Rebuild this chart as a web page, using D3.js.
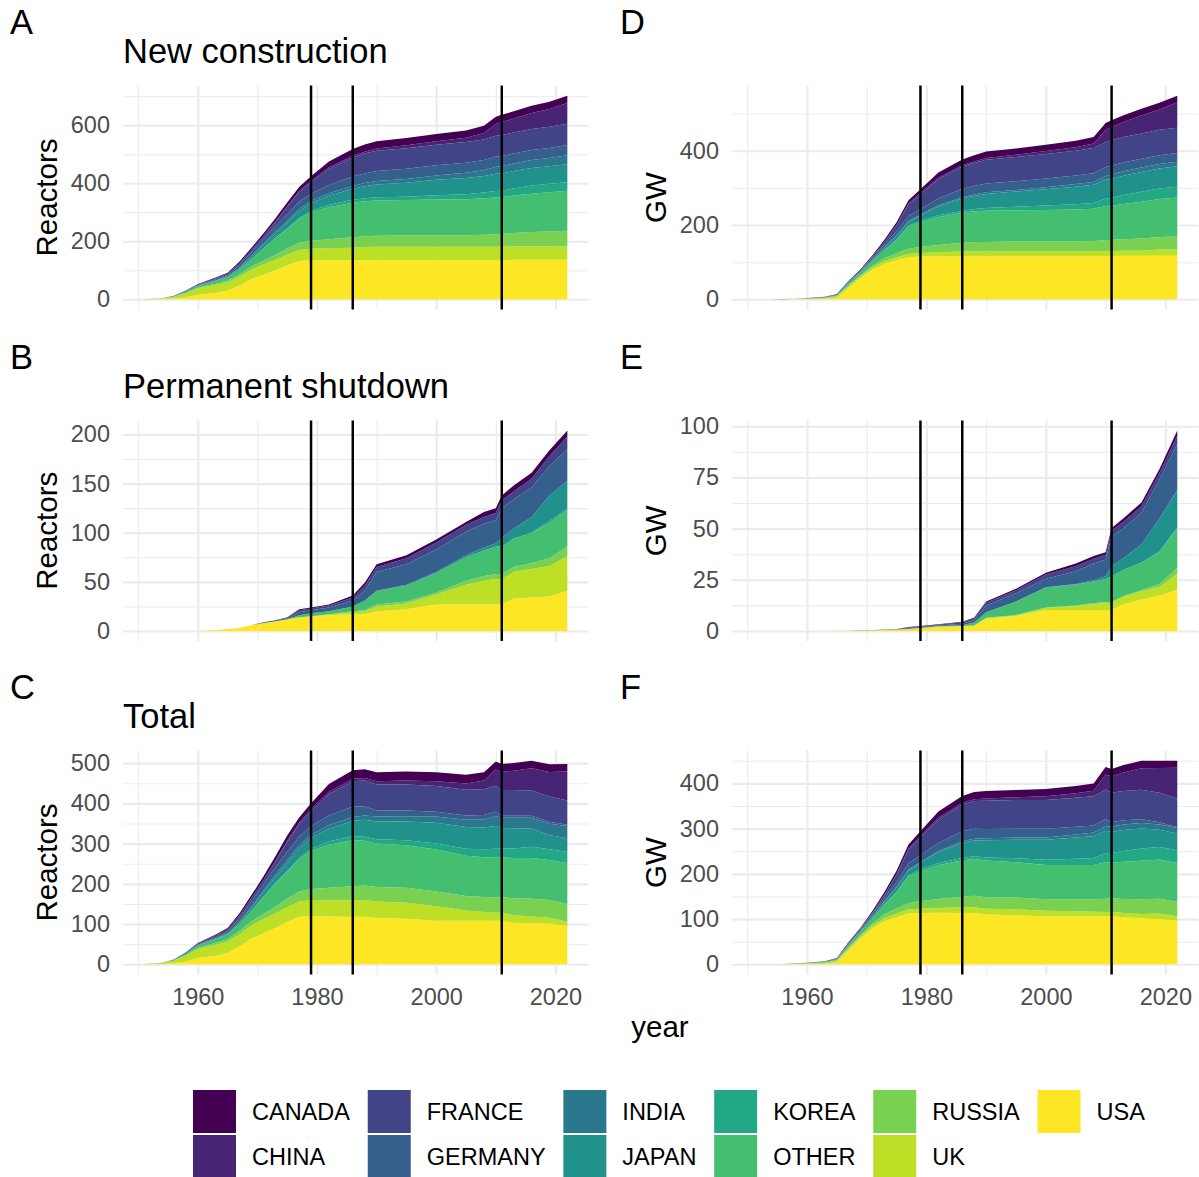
<!DOCTYPE html>
<html>
<head>
<meta charset="utf-8">
<script src="https://cdn.jsdelivr.net/npm/d3@7"></script>
<style>
  body { margin: 0; background: #fff; }
  svg { font-family: "Liberation Sans", Arial, Helvetica, sans-serif; }
</style>
</head>
<body>
<div id="chart"></div>
<script>
// ---- data ----
const years = [1951, 1954, 1956, 1958, 1960, 1963, 1965, 1967, 1969, 1971,
               1973, 1975, 1977, 1979, 1982, 1986, 1988, 1990, 1995, 2000,
               2005, 2008, 2010, 2011, 2013, 2016, 2019, 2022];

const countries = ["CANADA", "CHINA", "FRANCE", "GERMANY", "INDIA", "JAPAN",
                   "KOREA", "OTHER", "RUSSIA", "UK", "USA"];

const eventYears = [1979, 1986, 2011];
const xTicks = [1960, 1980, 2000, 2020];

// each row follows the order of `countries`
const builtReactors = [
  [0,0,0,0,1,2,3,5,7,9, 11,13,14,15,20,23,25,25,25,25, 25,25,25,25,25,25,25,25],
  [0,0,0,0,0,0,0,0,0,0, 2,3,4,5,6,6,6,8,10,12, 15,22,40,45,48,55,61,72],
  [0,0,1,2,3,4,5,7,9,10, 14,25,33,40,55,66,69,70,71,71, 71,71,72,72,72,72,73,73],
  [0,0,0,1,1,3,4,8,12,16, 19,22,24,24,28,32,33,34,35,35, 35,35,35,35,35,35,35,35],
  [0,0,0,0,0,1,2,3,4,5, 6,7,8,8,9,10,11,12,13,15, 18,20,24,25,26,27,28,31],
  [0,0,0,0,1,2,2,4,7,11, 15,20,24,27,31,38,42,44,48,53, 56,57,60,60,60,61,61,62],
  [0,0,0,0,0,0,0,0,0,1, 1,2,3,5,9,10,10,11,12,15, 17,20,22,22,24,28,29,30],
  [0,0,1,4,6,9,11,17,26,42, 58,67,82,98,110,119,121,122,122,124, 124,125,127,127,129,132,135,138],
  [1,1,1,2,3,5,6,8,10,13, 17,21,25,28,31,36,37,38,39,39, 40,42,43,44,47,50,52,54],
  [0,2,6,14,22,27,29,30,33,35, 36,37,38,39,41,43,45,46,46,46, 46,46,46,46,46,46,46,46],
  [0,1,3,7,16,22,30,48,70,85, 100,117,132,135,135,135,135,135,135,135, 135,135,135,135,136,136,136,136]
];

const shutReactors = [
  [0,0,0,0,0,0,0,0,0,0, 0,0,1,1,1,2,3,3,3,3, 3,5,5,5,6,6,6,6],
  [0,0,0,0,0,0,0,0,0,0, 0,0,0,0,0,0,0,0,0,0, 0,0,0,0,0,0,0,0],
  [0,0,0,0,0,0,0,0,0,0, 0,1,2,2,2,3,5,5,6,7, 7,7,7,8,8,9,10,13],
  [0,0,0,0,0,0,0,0,0,1, 1,1,3,3,4,6,10,19,21,23, 24,24,24,30,30,30,30,32],
  [0,0,0,0,0,0,0,0,0,0, 0,0,0,0,0,0,0,0,0,0, 0,0,0,0,0,0,0,0],
  [0,0,0,0,0,0,0,0,0,0, 0,0,0,0,0,0,0,0,1,1, 2,3,3,9,10,16,26,28],
  [0,0,0,0,0,0,0,0,0,0, 0,0,0,0,0,0,0,0,0,0, 0,0,0,0,0,0,2,2],
  [0,0,0,0,0,0,0,0,0,0, 0,0,2,3,3,5,10,14,16,20, 24,26,28,28,29,31,36,37],
  [0,0,0,0,0,0,0,0,0,0, 0,0,0,0,0,1,1,2,2,2, 4,5,5,5,5,6,8,10],
  [0,0,0,0,0,0,0,0,0,0, 0,0,0,0,1,2,3,5,6,10, 20,24,26,26,27,29,31,35],
  [0,0,0,0,0,1,2,3,6,8, 10,12,14,15,16,17,17,20,22,27, 27,27,27,27,33,34,35,41]
];

const totalReactors = [
  [0,0,0,0,1,2,3,5,7,9, 11,13,13,14,19,21,22,22,22,22, 22,20,20,20,19,19,19,19],
  [0,0,0,0,0,0,0,0,0,0, 2,3,4,5,6,6,6,8,10,12, 15,22,40,45,48,55,61,72],
  [0,0,1,2,3,4,5,7,9,10, 14,24,31,38,53,63,64,65,65,64, 64,64,65,64,64,63,63,60],
  [0,0,0,1,1,3,4,8,12,15, 18,21,21,21,24,26,23,15,14,12, 11,11,11,5,5,5,5,3],
  [0,0,0,0,0,1,2,3,4,5, 6,7,8,8,9,10,11,12,13,15, 18,20,24,25,26,27,28,31],
  [0,0,0,0,1,2,2,4,7,11, 15,20,24,27,31,38,42,44,47,52, 54,54,57,51,50,45,35,34],
  [0,0,0,0,0,0,0,0,0,1, 1,2,3,5,9,10,10,11,12,15, 17,20,22,22,24,28,27,28],
  [0,0,1,4,6,9,11,17,26,42, 58,67,80,95,107,114,111,108,106,104, 100,99,99,99,100,101,99,101],
  [1,1,1,2,3,5,6,8,10,13, 17,21,25,28,31,35,36,36,37,37, 36,37,38,39,42,44,44,44],
  [0,2,6,14,22,27,29,30,33,35, 36,37,38,39,40,41,42,41,40,36, 26,22,20,20,19,17,15,11],
  [0,1,3,7,16,21,28,45,64,77, 90,105,118,120,119,118,118,115,113,108, 108,108,108,108,103,102,101,95]
];

const builtGW = [
  [0,0,0,0,0.02,0.2,0.4,1.5,2,3.5, 6,7.5,9,10,14,15,16.5,17,17,17, 17.5,17.5,18,18,18,18,18,18],
  [0,0,0,0,0,0,0,0,0,0, 0.5,1.5,3,4,4,4,4,5,6,8, 10,12,33,36,41,48,55,68],
  [0,0,0.05,0.1,0.3,0.8,1.2,1.8,2.2,3, 6,15,30,40,52,60,62,64,65,66, 66,67.5,67.5,68,68,68,68,68],
  [0,0,0,0.02,0.05,0.3,0.5,1.5,2.5,4.5, 7.5,11,14,15,18,22.5,23,23.5,23.5,23.5, 23.5,23.5,24,24,24,24,24,24],
  [0,0,0,0,0,0.1,0.4,0.6,0.7,1, 1.2,1.4,1.6,2,2.5,4,4,4.5,4.5,5, 7,8,10,12,12,12,12,12],
  [0,0,0,0,0.2,0.3,0.5,1.5,2,4, 6.5,10,11,14,24,33,35,38,41,44, 47,49,51,51,52,53,54,55],
  [0,0,0,0,0,0,0,0,0,0.6, 0.6,1.2,2,4.5,5,5,6,7,9,12, 14,15,20,21,24,27,28,29],
  [0,0,0,0.2,0.5,1.2,2,5,7,12, 22,36,60,66,75,81,83,84,84.5,85, 86,87,92,92,95,99,102,105],
  [0,0,0,0.1,0.2,0.5,1,2,2.5,5, 8,11,14,16.5,20,23.5,25,25.5,26,26, 26.5,27.5,29.5,30,31,33,34,35],
  [0,0.1,0.2,0.6,1.2,2,3.5,4.2,5,6, 7,8,9,9.5,10.5,12.5,13,13,13.5,13.5, 13.5,13.5,13.5,13.5,13.5,13.5,17,17],
  [0,0.1,0.3,0.6,1,1.5,4.5,32,58,80, 96,105,113,115,116,116,116,116,116,116, 116,116,116,116.5,117,117,117,117]
];

const shutGW = [
  [0,0,0,0,0,0,0,0,0,0, 0,0,0.2,0.2,0.2,0.3,0.4,0.6,0.7,0.8, 1.3,1.3,1.3,1.3,1.6,1.9,2,2.6],
  [0,0,0,0,0,0,0,0,0,0, 0,0,0,0,0,0,0,0,0,0, 0,0,0,0,0,0,0,0],
  [0,0,0,0,0,0,0,0,0.05,0.05, 0.1,0.1,0.3,0.3,0.4,0.7,0.8,1.4,1.5,2.1, 2.4,2.4,2.4,2.8,3.2,3.2,3.2,4],
  [0,0,0,0,0,0,0,0,0,0.02, 0.02,0.1,0.3,0.3,0.3,0.8,1.2,3.2,4,4.1, 6.3,8.1,8.1,14.6,14.6,15.4,19,22.4],
  [0,0,0,0,0,0,0,0,0,0, 0,0,0,0,0,0,0,0,0,0, 0,0,0,0,0,0,0,0.2],
  [0,0,0,0,0,0,0,0,0,0, 0,0,0,0,0,0,0,0,0.1,0.2, 0.2,0.6,1.3,4.9,5.7,8.9,16,18],
  [0,0,0,0,0,0,0,0,0,0, 0,0,0,0,0,0,0,0,0,0, 0,0,0,0,0,0,0.3,0.5],
  [0,0,0,0,0,0,0,0,0,0.05, 0.05,0.05,0.2,0.2,0.2,0.3,1.5,2.7,6.5,9.7, 10.2,10.7,11.3,12.6,12.8,13.5,15.5,19.4],
  [0,0,0,0,0,0,0,0,0,0, 0,0,0,0,0.1,0.1,0.1,0.2,0.2,0.2, 0.3,0.3,0.3,0.3,0.3,0.5,1.5,2.8],
  [0,0,0,0,0,0,0,0,0,0, 0,0,0,0,0,0.05,0.1,0.3,0.3,1.1, 2,3,3.6,3.6,3.8,4,4.2,7.7],
  [0,0,0,0,0,0.05,0.1,0.15,0.25,0.4, 0.5,0.7,0.9,1.4,2.1,2.3,2.5,6,7.3,10.2, 10.2,10.2,10.2,10.2,13,15.4,17.3,20.3]
];

const totalGW = [
  [0,0,0,0,0.02,0.2,0.4,1.5,2,3.5, 6,7.5,8.8,9.8,13.8,14.7,16.1,16.4,16.3,16.2, 16.2,16.2,16.7,16.7,16.4,16.1,16,15.4],
  [0,0,0,0,0,0,0,0,0,0, 0.5,1.5,3,4,4,4,4,5,6,8, 10,12,33,36,41,48,55,68],
  [0,0,0.05,0.1,0.3,0.8,1.2,1.8,2.15,2.95, 5.9,14.9,29.7,39.7,51.6,59.3,61.2,62.6,63.5,63.9, 63.6,65.1,65.1,65.2,64.8,64.8,64.8,64],
  [0,0,0,0.02,0.05,0.3,0.5,1.5,2.5,4.48, 7.48,10.9,13.7,14.7,17.7,21.7,21.8,20.3,19.5,19.4, 17.2,15.4,15.9,9.4,9.4,8.6,5,1.6],
  [0,0,0,0,0,0.1,0.4,0.6,0.7,1, 1.2,1.4,1.6,2,2.5,4,4,4.5,4.5,5, 7,8,10,12,12,12,12,11.8],
  [0,0,0,0,0.2,0.3,0.5,1.5,2,4, 6.5,10,11,14,24,33,35,38,40.9,43.8, 46.8,48.4,49.7,46.1,46.3,44.1,38,37],
  [0,0,0,0,0,0,0,0,0,0.6, 0.6,1.2,2,4.5,5,5,6,7,9,12, 14,15,20,21,24,27,27.7,28.5],
  [0,0,0,0.2,0.5,1.2,2,5,7,11.95, 21.95,35.95,59.8,65.8,74.8,80.7,81.5,81.3,78,75.3, 75.8,76.3,80.7,79.4,82.2,85.5,86.5,85.6],
  [0,0,0,0.1,0.2,0.5,1,2,2.5,5, 8,11,14,16.5,19.9,23.4,24.9,25.3,25.8,25.8, 26.2,27.2,29.2,29.7,30.7,32.5,32.5,32.2],
  [0,0.1,0.2,0.6,1.2,2,3.5,4.2,5,6, 7,8,9,9.5,10.5,12.45,12.9,12.7,13.2,12.4, 11.5,10.5,9.9,9.9,9.7,9.5,12.8,9.3],
  [0,0.1,0.3,0.6,1,1.45,4.4,31.85,57.75,79.6, 95.5,104.3,112.1,113.6,113.9,113.7,113.5,110,108.7,105.8, 105.8,105.8,105.8,106.3,104,101.6,99.7,96.7]
];

// y tick labels per panel
const ticksBuiltReactors = [0, 200, 400, 600];
const ticksShutReactors = [0, 50, 100, 150, 200];
const ticksTotalReactors = [0, 100, 200, 300, 400, 500];
const ticksBuiltGW = [0, 200, 400];
const ticksShutGW = [0, 25, 50, 75, 100];
const ticksTotalGW = [0, 100, 200, 300, 400];

// ---- layout ----
const width = 1199, height = 1177;
const colRange = [[123, 588.5], [732, 1198.5]];
const rowRange = [[85.5, 309.5], [420.5, 641], [750.5, 974.5]];
const tagX = [10, 620];

const panels = [
  { tag: "A", title: "New construction", unit: "Reactors", values: builtReactors, ticks: ticksBuiltReactors, col: 0, row: 0 },
  { tag: "B", title: "Permanent shutdown", unit: "Reactors", values: shutReactors, ticks: ticksShutReactors, col: 0, row: 1 },
  { tag: "C", title: "Total", unit: "Reactors", values: totalReactors, ticks: ticksTotalReactors, col: 0, row: 2 },
  { tag: "D", title: "", unit: "GW", values: builtGW, ticks: ticksBuiltGW, col: 1, row: 0 },
  { tag: "E", title: "", unit: "GW", values: shutGW, ticks: ticksShutGW, col: 1, row: 1 },
  { tag: "F", title: "", unit: "GW", values: totalGW, ticks: ticksTotalGW, col: 1, row: 2 }
];

const color = d3.scaleOrdinal()
  .domain(countries)
  .range(countries.map((c, i) => d3.interpolateViridis(i / (countries.length - 1))));

// USA at the bottom of the stack, CANADA on top
const stackKeys = countries.slice().reverse();

const svg = d3.select("#chart")
  .append("svg")
  .attr("width", width)
  .attr("height", height);

const yrMin = d3.min(years), yrMax = d3.max(years);
const pad = 0.05 * (yrMax - yrMin);

function minorOf(ticks, domain) {
  const step = ticks[1] - ticks[0];
  const out = [];
  for (let v = ticks[0] - step / 2; v <= ticks[ticks.length - 1] + step / 2; v += step) {
    if (v >= domain[0] && v <= domain[1]) out.push(v);
  }
  return out;
}

panels.forEach(p => {
  const [x0, x1] = colRange[p.col];
  const [yTop, yBot] = rowRange[p.row];

  const rows = years.map((yr, j) => {
    const o = { year: yr };
    countries.forEach((c, i) => { o[c] = p.values[i][j]; });
    return o;
  });
  const series = d3.stack().keys(stackKeys)(rows);
  const maxV = d3.max(series[series.length - 1], d => d[1]);

  const x = d3.scaleLinear().domain([yrMin - pad, yrMax + pad]).range([x0, x1]);
  const y = d3.scaleLinear().domain([-0.05 * maxV, 1.05 * maxV]).range([yBot, yTop]);

  const g = svg.append("g");

  // grid lines
  const xMinor = minorOf(xTicks, x.domain());
  const yMinor = minorOf(p.ticks, y.domain());

  const gridV = (vals, w) => g.append("g")
    .attr("transform", `translate(0,${yTop})`)
    .call(d3.axisTop(x).tickValues(vals).tickSize(-(yBot - yTop)).tickFormat(""))
    .call(a => a.select(".domain").remove())
    .call(a => a.selectAll("line").attr("stroke", "#ebebeb").attr("stroke-width", w));
  const gridH = (vals, w) => g.append("g")
    .attr("transform", `translate(${x0},0)`)
    .call(d3.axisLeft(y).tickValues(vals).tickSize(-(x1 - x0)).tickFormat(""))
    .call(a => a.select(".domain").remove())
    .call(a => a.selectAll("line").attr("stroke", "#ebebeb").attr("stroke-width", w));

  gridV(xMinor, 1.05);
  gridH(yMinor, 1.05);
  gridV(xTicks, 2.1);
  gridH(p.ticks, 2.1);

  // stacked areas
  const area = d3.area()
    .x(d => x(d.data.year))
    .y0(d => y(d[0]))
    .y1(d => y(d[1]));

  g.selectAll(".layer")
    .data(series)
    .enter().append("path")
    .attr("class", "layer")
    .attr("fill", d => color(d.key))
    .attr("d", area);

  // event markers
  g.selectAll(".event")
    .data(eventYears)
    .enter().append("line")
    .attr("class", "event")
    .attr("x1", d => x(d)).attr("x2", d => x(d))
    .attr("y1", yTop).attr("y2", yBot)
    .attr("stroke", "#000")
    .attr("stroke-width", 2.5);

  // y tick labels
  g.append("g")
    .attr("transform", `translate(${x0},0)`)
    .call(d3.axisLeft(y).tickValues(p.ticks).tickSize(0).tickPadding(13))
    .call(a => a.select(".domain").remove())
    .call(a => a.selectAll("text")
      .attr("font-family", null)
      .attr("font-size", 23.5)
      .attr("fill", "#4d4d4d"));

  // x tick labels only on the bottom row
  if (p.row === 2) {
    g.append("g")
      .attr("transform", `translate(0,${yBot})`)
      .call(d3.axisBottom(x).tickValues(xTicks).tickFormat(d3.format("d")).tickSize(0).tickPadding(14))
      .call(a => a.select(".domain").remove())
      .call(a => a.selectAll("text")
        .attr("font-family", null)
        .attr("font-size", 23.5)
        .attr("fill", "#4d4d4d"));
  }

  // y axis title
  const titleX = p.col === 0 ? 57 : 666;
  g.append("text")
    .attr("transform", `translate(${titleX},${(yTop + yBot) / 2}) rotate(-90)`)
    .attr("text-anchor", "middle")
    .attr("font-size", 29.5)
    .attr("fill", "#000")
    .text(p.unit);

  // tag and title
  g.append("text")
    .attr("x", tagX[p.col])
    .attr("y", yTop - 51.5)
    .attr("font-size", 34.5)
    .attr("fill", "#000")
    .text(p.tag);

  if (p.title) {
    g.append("text")
      .attr("x", x0)
      .attr("y", yTop - 22.5)
      .attr("font-size", 34.5)
      .attr("fill", "#000")
      .text(p.title);
  }
});

// shared x title
svg.append("text")
  .attr("x", 660)
  .attr("y", 1037)
  .attr("text-anchor", "middle")
  .attr("font-size", 29.5)
  .attr("fill", "#000")
  .text("year");

// legend: 2 rows, filled column by column
const legend = svg.append("g");
const keySize = 43;
const rowTop = [1090, 1135];
let colX = 193;
for (let c = 0; c < Math.ceil(countries.length / 2); c++) {
  const items = countries.slice(c * 2, c * 2 + 2);
  let maxW = 0;
  items.forEach((name, r) => {
    legend.append("rect")
      .attr("x", colX).attr("y", rowTop[r])
      .attr("width", keySize).attr("height", keySize)
      .attr("fill", color(name));
    const t = legend.append("text")
      .attr("x", colX + 59)
      .attr("y", rowTop[r] + keySize / 2 + 8.5)
      .attr("font-size", 23.5)
      .attr("fill", "#000")
      .text(name);
    maxW = Math.max(maxW, t.node().getComputedTextLength());
  });
  colX += 59 + maxW + 17.8;
}
</script>
</body>
</html>
